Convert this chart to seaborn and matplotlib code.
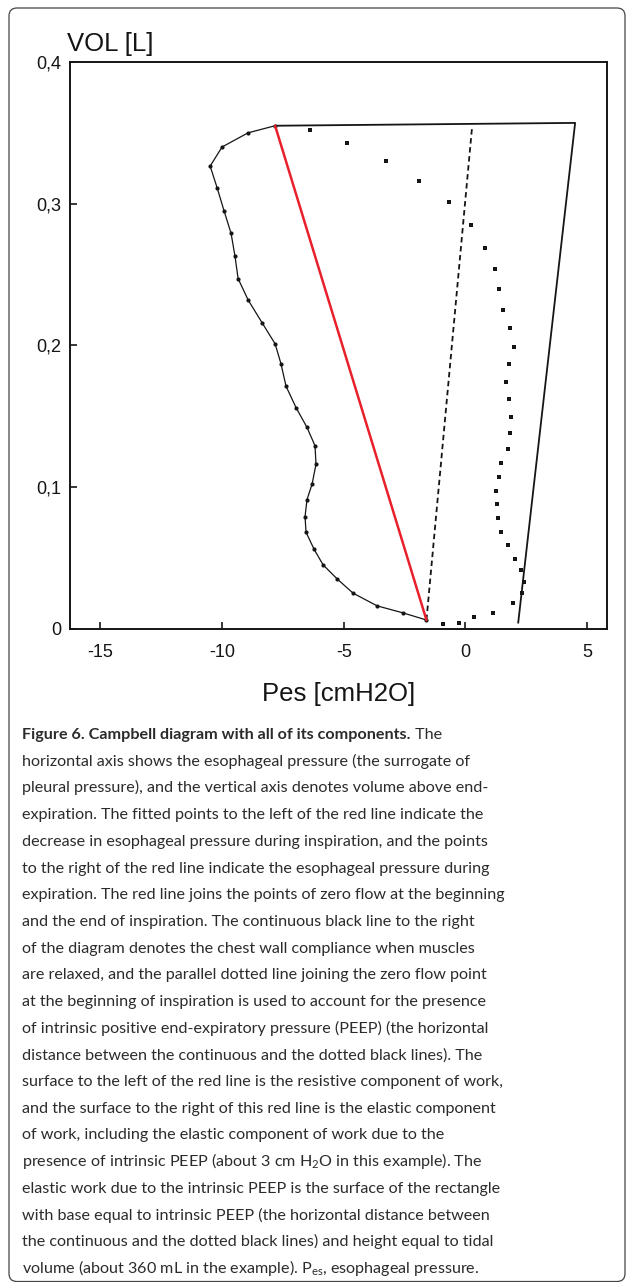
import matplotlib
matplotlib.use("Agg")
import pandas as pd
import seaborn as sns
import matplotlib.pyplot as plt
from matplotlib import font_manager
from matplotlib.patches import FancyBboxPatch
from matplotlib.transforms import IdentityTransform

# Inspiratie: punten links van de rode lijn (van nulflow onderaan naar boven)
insp_x = [-1.6, -2.56, -3.63, -4.62, -5.27, -5.85, -6.22, -6.55, -6.59, -6.51,
          -6.30, -6.14, -6.18, -6.51, -6.96, -7.37, -7.58, -7.82, -8.36, -8.93,
          -9.34, -9.47, -9.63, -9.92, -10.2, -10.49, -10.0, -8.93, -7.82]
insp_y = [0.006, 0.011, 0.016, 0.025, 0.035, 0.045, 0.056, 0.068, 0.079, 0.091,
          0.102, 0.116, 0.129, 0.142, 0.156, 0.171, 0.187, 0.201, 0.216, 0.232,
          0.247, 0.263, 0.279, 0.295, 0.311, 0.3265, 0.340, 0.350, 0.355]

# Expiratie: losse punten rechts van de rode lijn
exp_x = [-6.38, -4.86, -3.26, -1.90, -0.67, 0.23, 0.81, 1.22, 1.38, 1.55, 1.84,
         2.00, 1.80, 1.67, 1.80, 1.88, 1.84, 1.76, 1.47, 1.38, 1.26, 1.30, 1.34,
         1.47, 1.76, 2.04, 2.29, 2.41, 2.33, 1.96, 1.14, 0.36, -0.26, -0.92]
exp_y = [0.352, 0.343, 0.330, 0.316, 0.301, 0.285, 0.269, 0.254, 0.240, 0.225, 0.212,
         0.199, 0.187, 0.174, 0.162, 0.149, 0.138, 0.127, 0.117, 0.107, 0.097, 0.088, 0.078,
         0.068, 0.059, 0.049, 0.041, 0.033, 0.025, 0.018, 0.011, 0.008, 0.004, 0.0035]

# Rode lijn (nulflow begin en eind inspiratie)
red_x = [-1.6, -7.82]
red_y = [0.006, 0.355]

# Gestippelde lijn (parallel aan thoraxwand-compliantie)
dash_x = [-1.6, 0.28]
dash_y = [0.006, 0.355]

# Bovenlijn en thoraxwand-compliantie
wall_x = [-7.82, 4.51, 2.17]
wall_y = [0.355, 0.357, 0.004]

x_ticks = [-15, -10, -5, 0, 5]
x_labels = ["-15", "-10", "-5", "0", "5"]
y_ticks = [0, 0.1, 0.2, 0.3, 0.4]
y_labels = ["0", "0,1", "0,2", "0,3", "0,4"]

caption_bold = "Figure 6. Campbell diagram with all of its components."
caption_first = " The"
caption_lines = [
    "horizontal axis shows the esophageal pressure (the surrogate of",
    "pleural pressure), and the vertical axis denotes volume above end-",
    "expiration. The fitted points to the left of the red line indicate the",
    "decrease in esophageal pressure during inspiration, and the points",
    "to the right of the red line indicate the esophageal pressure during",
    "expiration. The red line joins the points of zero flow at the beginning",
    "and the end of inspiration. The continuous black line to the right",
    "of the diagram denotes the chest wall compliance when muscles",
    "are relaxed, and the parallel dotted line joining the zero flow point",
    "at the beginning of inspiration is used to account for the presence",
    "of intrinsic positive end-expiratory pressure (PEEP) (the horizontal",
    "distance between the continuous and the dotted black lines). The",
    "surface to the left of the red line is the resistive component of work,",
    "and the surface to the right of this red line is the elastic component",
    "of work, including the elastic component of work due to the",
    r"presence of intrinsic PEEP (about 3 cm H$_{\mathrm{2}}$O in this example). The",
    "elastic work due to the intrinsic PEEP is the surface of the rectangle",
    "with base equal to intrinsic PEEP (the horizontal distance between",
    "the continuous and the dotted black lines) and height equal to tidal",
    r"volume (about 360 mL in the example). P$_{\mathrm{es}}$, esophageal pressure.",
]

sns.set_style("ticks")
plt.rcParams["font.family"] = ["Liberation Sans", "DejaVu Sans"]

names = {f.name for f in font_manager.fontManager.ttflist}
cap_font = "Liberation Sans Narrow" if "Liberation Sans Narrow" in names else "Lato"
plt.rcParams["mathtext.fontset"] = "custom"
plt.rcParams["mathtext.rm"] = cap_font

W, H = 626, 1282
fig = plt.figure(figsize=(W / 100, H / 100), dpi=100)
ax = fig.add_axes([70 / W, 1 - 628.5 / H, 537 / W, 566.5 / H])

ink = "#151515"
sns.lineplot(x=insp_x, y=insp_y, sort=False, estimator=None, color=ink, lw=0.9,
             marker="o", markersize=3, markeredgewidth=0, ax=ax)
sns.scatterplot(x=exp_x, y=exp_y, marker="s", s=10, color=ink, linewidth=0, ax=ax)
sns.lineplot(x=wall_x, y=wall_y, sort=False, estimator=None, color=ink, lw=1.3, ax=ax)
sns.lineplot(x=dash_x, y=dash_y, sort=False, estimator=None, color=ink, lw=1.3,
             dashes=False, ax=ax).lines[-1].set_dashes([3, 2])
sns.lineplot(x=red_x, y=red_y, sort=False, estimator=None, color="#e8202a", lw=1.8, ax=ax)

ax.set_xlim(-16.25, 5.82)
ax.set_ylim(0, 0.4)
ax.set_xticks(x_ticks)
ax.set_xticklabels(x_labels)
ax.set_yticks(y_ticks)
ax.set_yticklabels(y_labels)
for s in ax.spines.values():
    s.set_linewidth(1.4)
    s.set_color(ink)
ax.tick_params(direction="in", length=5, width=1.2, colors=ink, labelsize=13)
ax.tick_params(axis="x", pad=11)
ax.tick_params(axis="y", pad=6)

ax.set_xlabel("Pes [cmH2O]", fontsize=18.5, color=ink, va="center")
ax.xaxis.set_label_coords(0.5, (628.5 - 694) / 566.5)
ax.set_ylabel("VOL [L]", fontsize=18.5, color=ink, rotation=0, ha="left", va="baseline")
ax.yaxis.set_label_coords(-0.006, (628.5 - 51) / 566.5)

# Onderschrift
renderer = fig.canvas.get_renderer()
probe = fig.text(0, 0, caption_lines[5], family=cap_font, fontsize=12)
cap_size = 12 * 483 / probe.get_window_extent(renderer).width
probe.remove()

tc = "#2b2b2b"
x0 = 22 / W
base0 = 739
step = 26.7
tb = fig.text(x0, 1 - base0 / H, caption_bold, family=cap_font, fontsize=cap_size,
              weight="bold", color=tc, va="baseline")
bw = tb.get_window_extent(renderer).width
fig.text(x0 + bw / W, 1 - base0 / H, caption_first, family=cap_font, fontsize=cap_size,
         color=tc, va="baseline")
for i, line in enumerate(caption_lines, start=1):
    fig.text(x0, 1 - (base0 + i * step) / H, line, family=cap_font, fontsize=cap_size,
             color=tc, va="baseline")

box = FancyBboxPatch((9, 0.5), 616, H - 8 - 0.5, boxstyle="round,pad=0,rounding_size=8",
                     fill=False, edgecolor="#444444", lw=0.9, transform=IdentityTransform())
fig.add_artist(box)

fig.savefig("out.png", dpi=100)
